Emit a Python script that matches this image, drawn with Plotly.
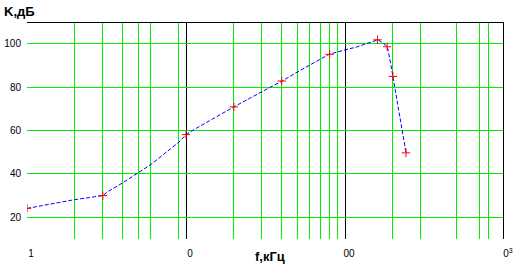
import plotly.graph_objects as go

# curve (frequency in kHz, gain in dB)
f_line = [1, 1.21, 1.5, 1.98, 3, 3.19, 4.02, 4.92, 6.03, 9.04, 10, 11.4, 20, 33.8, 40.2,
          49.2, 59.4, 79.3, 97.1, 107.5, 117.3, 139.6, 150, 161.3, 173.4, 184.6, 193.8,
          200.4, 210.3, 220.8, 229.4, 238.5, 242]
k_line = [24.1, 25.2, 26.3, 28.1, 30.0, 31.6, 36.0, 40.2, 44.4, 54.7, 58.1, 60.7, 70.9,
          79.9, 82.8, 86.6, 90.1, 95.1, 96.9, 97.7, 98.4, 100.3, 101.1, 101.8, 100.3, 98.6,
          90.9, 84.9, 75.6, 67.2, 60.7, 52.0, 49.7]

# measured points (red crosses)
f_meas = [1, 3, 10, 20, 40, 80, 160, 184, 200, 242]
k_meas = [24.1, 30.0, 58.1, 70.9, 82.8, 95.1, 101.8, 98.6, 84.9, 49.7]

# axes
x_tickvals = [1, 10, 100, 1000]
x_ticktext = ["1", "0", "00", "0<sup>3</sup>"]
y_tickvals = [20, 40, 60, 80, 100]
y_ticktext = ["20", "40", "60", "80", "100"]
x_grid_green = [2, 3, 4, 5, 6, 9, 20, 30, 40, 50, 60, 70, 80, 90, 200, 300, 500, 700, 800]

GREEN = "#00ee00"
FONT = "Liberation Sans, Arial, sans-serif"

fig = go.Figure()
fig.add_trace(go.Scatter(x=f_line, y=k_line, mode="lines",
                         line=dict(color="#0000ff", width=1, dash="4px,2px"),
                         showlegend=False, hoverinfo="skip"))
fig.add_trace(go.Scatter(x=f_meas, y=k_meas, mode="markers",
                         marker=dict(symbol="cross-thin", size=6,
                                     line=dict(color="#ff0000", width=1)),
                         showlegend=False))

shapes = [
    dict(type="line", xref="x", yref="paper", x0=1000, x1=1000, y0=0, y1=1,
         line=dict(color="black", width=2), layer="above"),
    dict(type="line", xref="paper", yref="paper", x0=0, x1=1,
         y0=1 - 0.5 / 217, y1=1 - 0.5 / 217,
         line=dict(color="black", width=1), layer="above"),
]

fig.update_layout(
    width=523, height=267,
    margin=dict(l=27, r=19, t=22, b=28, pad=0),
    paper_bgcolor="white", plot_bgcolor="white",
    font=dict(family=FONT, color="black", size=10),
    shapes=shapes,
    xaxis=dict(type="log", range=[0, 3], tickvals=x_tickvals, ticktext=x_ticktext,
               showgrid=True, gridcolor="black", gridwidth=1,
               minor=dict(tickvals=x_grid_green, showgrid=True, gridcolor=GREEN,
                          gridwidth=1, ticks=""),
               zeroline=False, showline=False, ticks="", automargin=False,
               ticklabelstandoff=7, ticklabelshift=4, tickfont=dict(size=10)),
    yaxis=dict(range=[10, 110], tickvals=y_tickvals, ticktext=y_ticktext,
               showgrid=True, gridcolor=GREEN, gridwidth=1, zeroline=False, automargin=False,
               showline=False, ticks="", ticklabelstandoff=5, tickfont=dict(size=10)),
    annotations=[
        dict(text="<b>K,дБ</b>", xref="paper", yref="paper", x=(2 - 27) / 477,
             y=(239 - 11) / 217, xanchor="left", yanchor="middle", showarrow=False,
             font=dict(size=13, family=FONT)),
        dict(text="<b>f,кГц</b>", xref="paper", yref="paper", x=(270 - 27) / 477,
             y=(239 - 256) / 217, xanchor="center", yanchor="middle", showarrow=False,
             font=dict(size=13, family=FONT)),
    ],
)

fig.write_html("out.html")
